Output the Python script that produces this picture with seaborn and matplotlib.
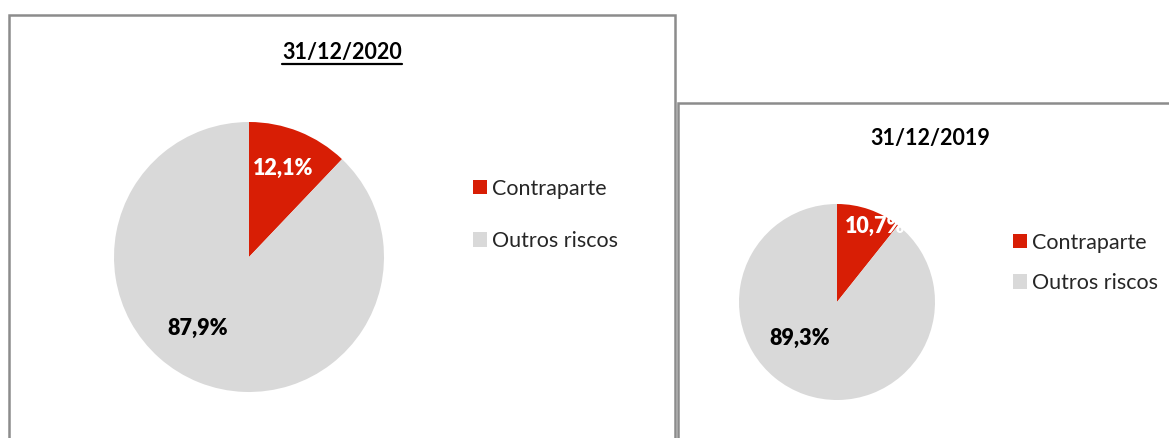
import matplotlib
matplotlib.use("Agg")
import matplotlib.pyplot as plt
from matplotlib.patches import Rectangle, Patch
from matplotlib.lines import Line2D
import numpy as np
import seaborn as sns

# Risk breakdown per reporting date
categories = ["Contraparte", "Outros riscos"]
dates = ["31/12/2020", "31/12/2019"]
shares_2020 = [12.1, 87.9]
shares_2019 = [10.7, 89.3]

sns.set_theme(style="white")
plt.rcParams["font.family"] = ["Lato", "DejaVu Sans"]

palette = sns.color_palette(["#D81E05", "#D9D9D9"])
border = "#8C8C8C"

W, H = 1169, 438
fig = plt.figure(figsize=(W / 100, H / 100), dpi=100)
fig.patch.set_facecolor("white")


def fx(px):
    return px / W


def fy(py):
    return 1 - py / H


# chart frames
fig.add_artist(Rectangle((fx(9), fy(450)), fx(666), (450 - 15) / H,
                         fill=False, edgecolor=border, linewidth=1.8,
                         transform=fig.transFigure))
fig.add_artist(Rectangle((fx(678), fy(450)), fx(520), (450 - 103) / H,
                         fill=False, edgecolor=border, linewidth=1.8,
                         transform=fig.transFigure))


def pie_panel(values, cx, cy, r, label_pos, label_colors, fontsize):
    ax = fig.add_axes([fx(cx - r), fy(cy + r), 2 * r / W, 2 * r / H])
    ax.pie(values, colors=palette, startangle=90, counterclock=False,
           radius=1, wedgeprops=dict(linewidth=0))
    ax.set_xlim(-1, 1)
    ax.set_ylim(-1, 1)
    ax.axis("off")
    for v, (ang, dist), c in zip(values, label_pos, label_colors):
        t = np.deg2rad(ang)
        ax.text(dist * np.cos(t), dist * np.sin(t),
                f"{v:.1f}%".replace(".", ","), ha="center", va="center",
                color=c, fontsize=fontsize, fontweight="heavy", clip_on=False)
    return ax


pie_panel(shares_2020, 249, 257, 135, [(69, 0.70), (-126, 0.65)],
          ["white", "black"], 15.5)
pie_panel(shares_2019, 837, 302, 98, [(63, 0.86), (-136, 0.53)],
          ["white", "black"], 15.5)

# titles
t1 = fig.text(fx(342), fy(52), dates[0], ha="center", va="center",
              fontsize=15.5, fontweight="bold", color="black")
fig.text(fx(930), fy(139), dates[1], ha="center", va="center",
         fontsize=15.5, fontweight="bold", color="black")

handles = [Patch(facecolor=palette[i], edgecolor="none", label=categories[i])
           for i in range(2)]

leg_kw = dict(loc="center left", frameon=False, fontsize=15.5,
              handlelength=0.65, handleheight=0.65, handletextpad=0.25,
              borderpad=0, borderaxespad=0)
fig.legend(handles=handles, bbox_to_anchor=(fx(473), fy(215)),
           labelspacing=1.5, **leg_kw)
fig.legend(handles=handles, bbox_to_anchor=(fx(1013), fy(263)),
           labelspacing=0.95, **leg_kw)

# underline the first title
fig.canvas.draw()
bb = t1.get_window_extent().transformed(fig.transFigure.inverted())
fig.add_artist(Line2D([bb.x0, bb.x1], [bb.y0 - 0.003, bb.y0 - 0.003],
                      color="black", linewidth=1.6,
                      transform=fig.transFigure))

fig.savefig("out.png", dpi=100, facecolor="white")
